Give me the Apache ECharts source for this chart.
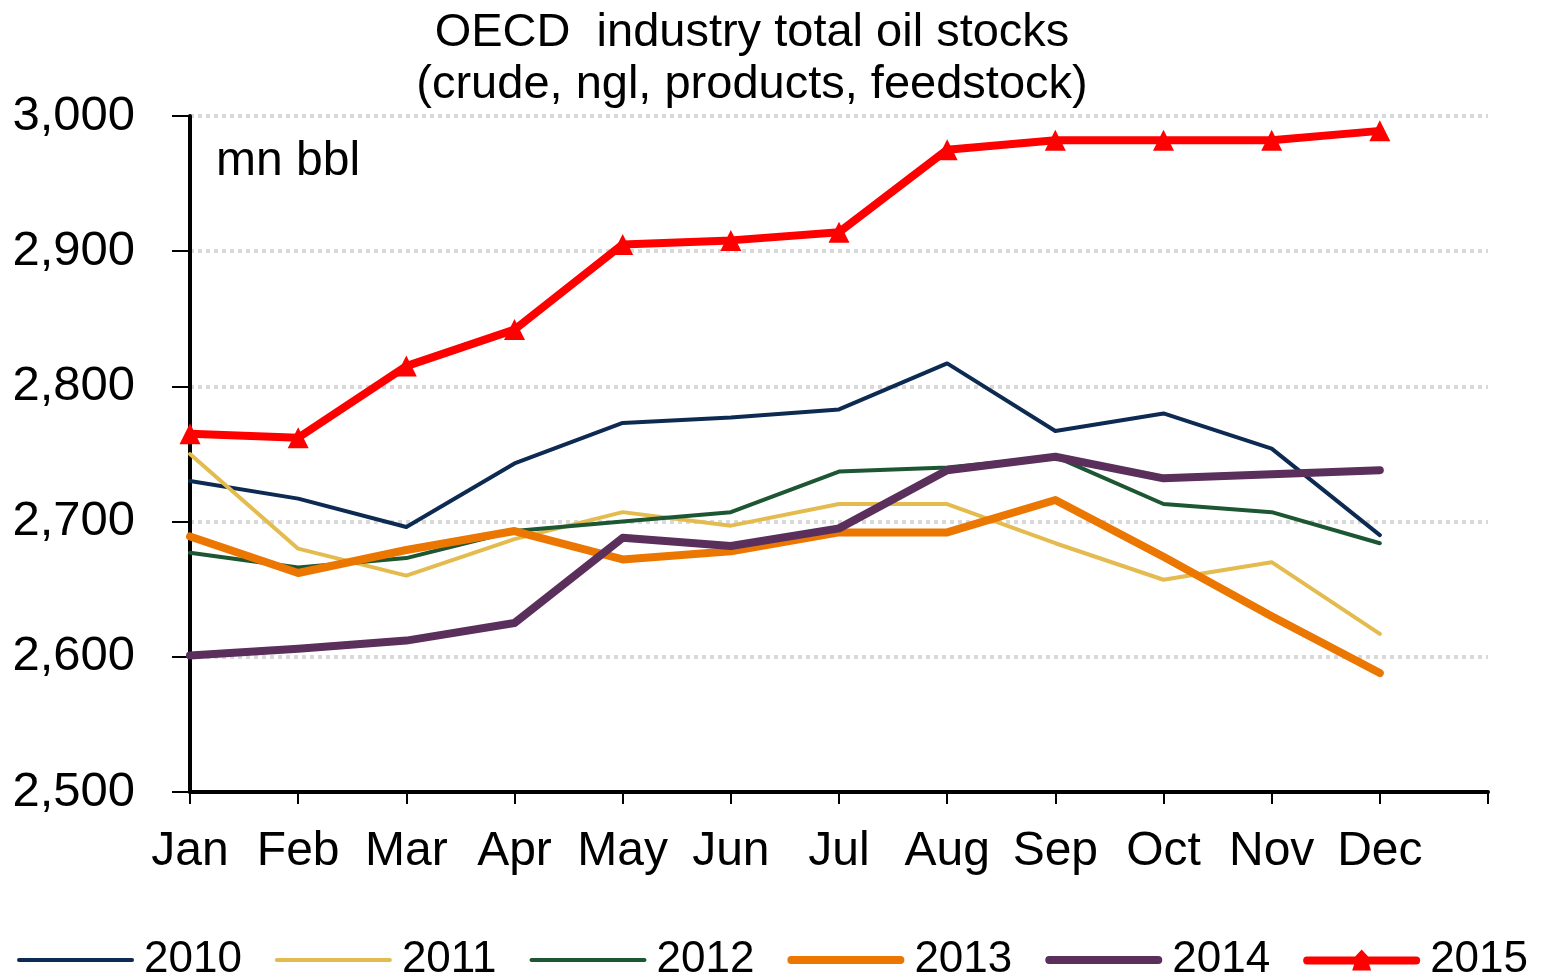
<!DOCTYPE html>
<html>
<head>
<meta charset="utf-8">
<script src="https://cdn.jsdelivr.net/npm/echarts@6/dist/echarts.min.js"></script>
<style>
html,body{margin:0;padding:0;background:#fff;}
#chart{width:1543px;height:980px;}
</style>
</head>
<body>
<div id="chart"></div>
<script>
const months = ['Jan','Feb','Mar','Apr','May','Jun','Jul','Aug','Sep','Oct','Nov','Dec',''];
const yTicks = [2500, 2600, 2700, 2800, 2900, 3000];
const seriesNames = ['2010','2011','2012','2013','2014','2015'];
const s2010 = [2730, 2717, 2696, 2743, 2773, 2777, 2783, 2817, 2767, 2780, 2754, 2690];
const s2011 = [2750, 2680, 2660, 2687, 2707, 2697, 2713, 2713, 2684, 2657, 2670, 2617];
const s2012 = [2677, 2666, 2673, 2693, 2700, 2707, 2737, 2740, 2748, 2713, 2707, 2684];
const s2013 = [2689, 2662, 2679, 2693, 2672, 2678, 2692, 2692, 2716, 2674, 2630, 2588];
const s2014 = [2601, 2606, 2612, 2625, 2688, 2682, 2695, 2738, 2748, 2732, 2735, 2738];
const s2015 = [2765, 2762, 2815, 2842, 2905, 2908, 2914, 2975, 2982, 2982, 2982, 2989];

const FONT = '"Liberation Sans", Arial, sans-serif';
const chart = echarts.init(document.getElementById('chart'));

function line(name, data, color, width, marker) {
  return {
    name: name, type: 'line', data: data,
    symbol: marker ? 'triangle' : 'none',
    symbolSize: marker ? 21 : 0,
    showSymbol: !!marker,
    itemStyle: { color: color },
    lineStyle: { color: color, width: width, cap: 'round', join: 'round' },
    emphasis: { disabled: true },
    animation: false
  };
}

const thinIcon = 'path://M2,0 L115,0 A2,2 0 0 1 115,4 L2,4 A2,2 0 0 1 2,0 Z';
const thickIcon = 'path://M4,0 L113,0 A4,4 0 0 1 113,8 L4,8 A4,4 0 0 1 4,0 Z';
const markIcon = 'path://M4,7 L52,7 L58.5,0 L65,7 L113,7 A4,4 0 0 1 113,15 L66,15 L68,21 L49,21 L51,15 L4,15 A4,4 0 0 1 4,7 Z';

chart.setOption({
  animation: false,
  backgroundColor: '#fff',
  title: [{
    text: 'OECD  industry total oil stocks\n(crude, ngl, products, feedstock)',
    left: 752, top: 7, padding: 0, textAlign: 'center',
    textStyle: { fontFamily: FONT, fontSize: 47, fontWeight: 'normal', color: '#000', lineHeight: 52 }
  }, {
    text: 'mn bbl', left: 216, top: 138, padding: 0,
    textStyle: { fontFamily: FONT, fontSize: 48, fontWeight: 'normal', color: '#000' }
  }],
  grid: { left: 190, right: 55, top: 116, bottom: 188, containLabel: false },
  legend: {
    left: 17, top: 938, width: 1600, padding: 0, itemWidth: 117, itemHeight: 21, itemGap: 33,
    symbolKeepAspect: true,
    textStyle: { fontFamily: FONT, fontSize: 44, color: '#000', padding: [0, 0, 0, 5] },
    data: [
      { name: seriesNames[0], icon: thinIcon },
      { name: seriesNames[1], icon: thinIcon },
      { name: seriesNames[2], icon: thinIcon },
      { name: seriesNames[3], icon: thickIcon },
      { name: seriesNames[4], icon: thickIcon },
      { name: seriesNames[5], icon: markIcon }
    ]
  },
  xAxis: {
    type: 'category', data: months, boundaryGap: false,
    axisLine: { lineStyle: { color: '#000', width: 4 } },
    axisTick: { show: true, length: 12, inside: false, alignWithLabel: true, lineStyle: { color: '#000', width: 2 }, interval: 0 },
    axisLabel: { interval: 0, margin: 36, fontFamily: FONT, fontSize: 48, color: '#000' },
    splitLine: { show: false }
  },
  yAxis: {
    type: 'value', min: 2500, max: 3000, interval: 100,
    axisLine: { show: true, lineStyle: { color: '#000', width: 4 } },
    axisTick: { show: true, length: 18, lineStyle: { color: '#000', width: 2 } },
    axisLabel: {
      margin: 55, fontFamily: FONT, fontSize: 49, color: '#000',
      formatter: function (v) { return yTicks.indexOf(v) >= 0 ? v.toLocaleString('en-US') : ''; }
    },
    splitLine: { show: true, lineStyle: { color: '#d9d9d9', width: 4, type: [4, 4] } }
  },
  series: [
    line(seriesNames[0], s2010, '#0d2b52', 4, false),
    line(seriesNames[1], s2011, '#e3bb4e', 4, false),
    line(seriesNames[2], s2012, '#1d5632', 4, false),
    line(seriesNames[3], s2013, '#eb7700', 8, false),
    line(seriesNames[4], s2014, '#5a2f5c', 8, false),
    line(seriesNames[5], s2015, '#ff0000', 8, true)
  ]
});
</script>
</body>
</html>
